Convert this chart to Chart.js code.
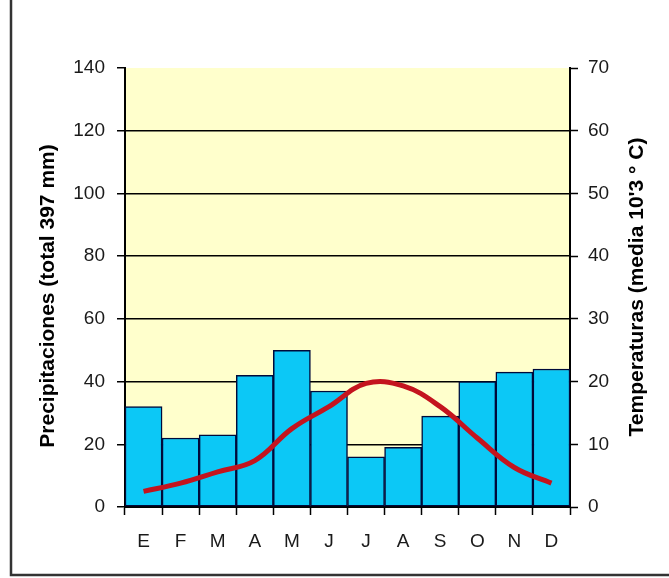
<!DOCTYPE html>
<html>
<head>
<meta charset="utf-8">
<script src="https://cdn.jsdelivr.net/npm/chart.js@4/dist/chart.umd.min.js"></script>
<style>
  html, body { margin: 0; padding: 0; background: #ffffff; }
  canvas { display: block; }
</style>
</head>
<body>
<canvas id="climo" width="669" height="578"></canvas>
<script>
const months = ['E', 'F', 'M', 'A', 'M', 'J', 'J', 'A', 'S', 'O', 'N', 'D'];
const precipitation = [32, 22, 23, 42, 50, 37, 16, 19, 29, 40, 43, 44];
const temperature = [2.5, 3.8, 5.6, 7.4, 12.5, 16, 19.7, 19.3, 16, 11, 6.3, 3.8];
const precipTitle = 'Precipitaciones (total 397 mm)';
const tempTitle = 'Temperaturas (media 10\'3 ° C)';

const tickFont = { family: "'Liberation Sans', Arial, sans-serif", size: 19 };
const titleFont = "bold 21px 'Liberation Sans', Arial, sans-serif";

// plot background + frame + rotated axis titles
const decor = {
    id: 'decor',
    beforeDraw: chart =>
    {
        let ctx = chart.ctx;
        let a = chart.chartArea;
        ctx.save();
        ctx.fillStyle = '#ffffcc';
        ctx.fillRect(a.left, a.top, a.right - a.left, a.bottom - a.top);
        ctx.restore();
    },
    afterDraw: chart =>
    {
        let ctx = chart.ctx;
        ctx.save();
        ctx.strokeStyle = '#333';
        ctx.lineWidth = 2.5;
        ctx.beginPath();
        ctx.moveTo(11, 0);
        ctx.lineTo(11, 575);
        ctx.lineTo(669, 575);
        ctx.stroke();

        ctx.fillStyle = '#000';
        ctx.font = titleFont;
        ctx.textAlign = 'center';
        ctx.textBaseline = 'middle';

        ctx.save();
        ctx.translate(48, 296);
        ctx.rotate(-Math.PI / 2);
        ctx.fillText(precipTitle, 0, 0);
        ctx.restore();

        ctx.save();
        ctx.translate(637, 287);
        ctx.rotate(-Math.PI / 2);
        ctx.fillText(tempTitle, 0, 0);
        ctx.restore();

        ctx.restore();
    }
};

new Chart('climo', {
    data: {
        labels: months,
        datasets: [
            {
                type: 'line',
                data: temperature,
                yAxisID: 'y2',
                borderColor: '#c4141e',
                borderWidth: 5,
                tension: 0.4,
                pointRadius: 0,
                order: 0,
            },
            {
                type: 'bar',
                data: precipitation,
                yAxisID: 'y',
                backgroundColor: '#0cc8f6',
                borderColor: '#000a3a',
                borderWidth: 1.5,
                borderSkipped: false,
                categoryPercentage: 1,
                barPercentage: 1,
                order: 1,
            },
        ],
    },
    options: {
        responsive: false,
        animation: false,
        layout: { padding: { top: 68, left: 0, right: 0, bottom: 0 } },
        plugins: {
            legend: { display: false },
            tooltip: { enabled: false },
        },
        scales: {
            x: {
                offset: true,
                afterFit: s => { s.height = 71; },
                grid: {
                    offset: true,
                    drawOnChartArea: false,
                    tickLength: 8,
                    tickColor: '#000',
                    tickWidth: 1.5,
                },
                border: { display: true, color: '#000', width: 2 },
                ticks: { font: tickFont, color: '#1a1a1a', padding: 15 },
            },
            y: {
                position: 'left',
                min: 0,
                max: 140,
                afterFit: s => { s.width = 125; },
                grid: {
                    color: ctx => (ctx.tick && ctx.tick.value === 140) ? 'rgba(0,0,0,0)' : '#000',
                    lineWidth: 1.5,
                    tickLength: 8,
                    tickColor: '#000',
                    tickWidth: 1.5,
                },
                border: { display: true, color: '#000', width: 2 },
                ticks: { stepSize: 20, font: tickFont, color: '#1a1a1a', padding: 12 },
            },
            y2: {
                position: 'right',
                min: 0,
                max: 70,
                afterFit: s => { s.width = 99; },
                grid: {
                    drawOnChartArea: false,
                    tickLength: 8,
                    tickColor: '#000',
                    tickWidth: 1.5,
                },
                border: { display: true, color: '#000', width: 2 },
                ticks: { stepSize: 10, font: tickFont, color: '#1a1a1a', padding: 10 },
            },
        },
    },
    plugins: [decor],
});
</script>
</body>
</html>
